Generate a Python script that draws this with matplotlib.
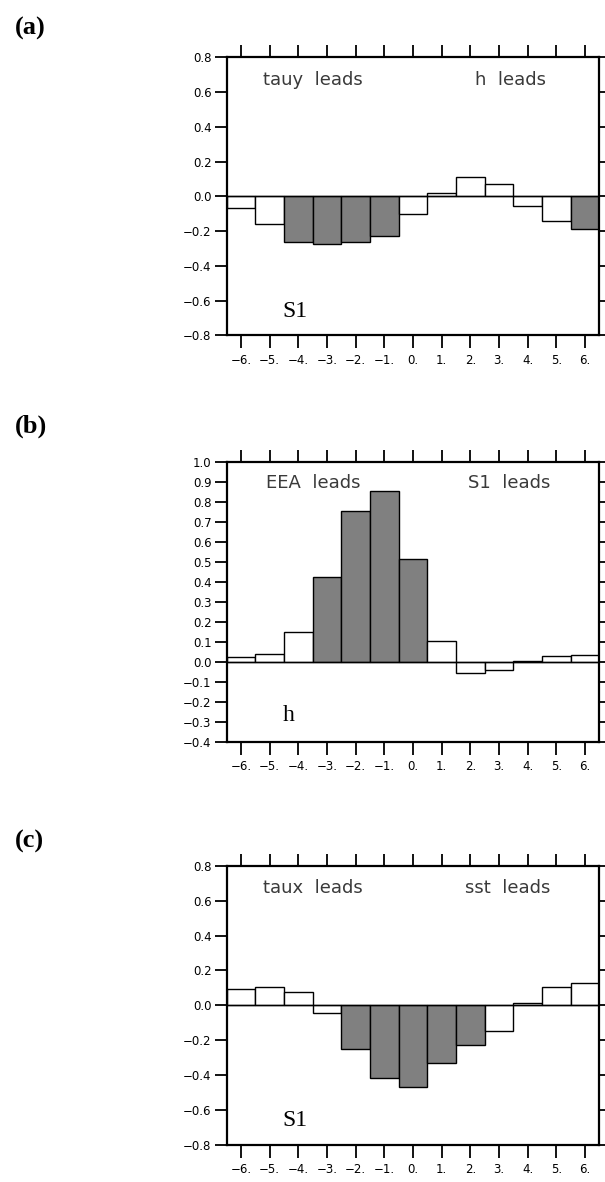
import numpy as np
import matplotlib
matplotlib.use('agg')
import matplotlib.pyplot as plt

lags = [-6, -5, -4, -3, -2, -1, 0, 1, 2, 3, 4, 5, 6]

# (a) tauy vs h, S1
corr_a = [-0.065, -0.16, -0.263, -0.275, -0.26, -0.23, -0.104, 0.019, 0.111, 0.071, -0.058, -0.14, -0.185]
shade_a = [-4, -3, -2, -1, 6]
# (b) EEA vs S1, h
corr_b = [0.027, 0.038, 0.152, 0.423, 0.753, 0.855, 0.515, 0.103, -0.057, -0.04, 0.003, 0.028, 0.037]
shade_b = [-3, -2, -1, 0]
# (c) taux vs sst, S1
corr_c = [0.093, 0.107, 0.076, -0.046, -0.25, -0.417, -0.465, -0.328, -0.227, -0.149, 0.013, 0.103, 0.128]
shade_c = [-2, -1, 0, 1, 2]

panels = [
    dict(vals=corr_a, shade=shade_a, ylim=(-0.8, 0.8), yt=np.arange(-0.8, 0.81, 0.2),
         left='tauy  leads', right='h  leads', xl=-5.24, xr=2.16, name='S1', label='(a)',
         ytop=0.67, yname=-0.66, rect=[0.3747, 0.7162, 0.6159, 0.2354], lab_y=0.976),
    dict(vals=corr_b, shade=shade_b, ylim=(-0.4, 1.0), yt=np.arange(-0.4, 1.01, 0.1),
         left='EEA  leads', right='S1  leads', xl=-5.13, xr=1.91, name='h', label='(b)',
         ytop=0.895, yname=-0.27, rect=[0.3747, 0.3723, 0.6159, 0.2369], lab_y=0.639),
    dict(vals=corr_c, shade=shade_c, ylim=(-0.8, 0.8), yt=np.arange(-0.8, 0.81, 0.2),
         left='taux  leads', right='sst  leads', xl=-5.24, xr=1.81, name='S1', label='(c)',
         ytop=0.67, yname=-0.66, rect=[0.3747, 0.0313, 0.6159, 0.2363], lab_y=0.288),
]

fig = plt.figure(figsize=(6.05, 11.82), dpi=100)

for p in panels:
    ax = fig.add_axes(p['rect'])
    colors = ['#808080' if l in p['shade'] else 'white' for l in lags]
    ax.bar(lags, p['vals'], width=1.0, color=colors, edgecolor='black', linewidth=1.0, zorder=2)
    ax.axhline(0, color='black', linewidth=1.0, zorder=3)
    ax.set_xlim(-6.5, 6.5)
    ax.set_ylim(*p['ylim'])
    ax.set_xticks(lags)
    ax.set_xticklabels([f'{l}.'.replace('-', '\u2212') for l in lags])
    ax.set_yticks(p['yt'])
    ax.set_yticklabels([f'{v:.1f}'.replace('-', '\u2212') if abs(v) > 1e-9 else '0.0' for v in p['yt']])
    ax.tick_params(direction='out', length=9, width=1.3, labelsize=8.5, pad=2,
                   top=True, right=True, labeltop=False, labelright=False)
    ax.tick_params(axis='x', pad=4)
    for s in ax.spines.values():
        s.set_linewidth(1.6)
    ax.text(p['xl'], p['ytop'], p['left'], fontsize=13, color='#3a3a3a', va='center', ha='left')
    ax.text(p['xr'], p['ytop'], p['right'], fontsize=13, color='#3a3a3a', va='center', ha='left')
    ax.text(-4.55, p['yname'], p['name'], fontsize=17, family='Liberation Serif', va='center', ha='left')
    fig.text(0.025, p['lab_y'], p['label'], fontsize=19, fontweight='bold',
             family='Liberation Serif', va='center', ha='left')

plt.savefig('out.png', dpi=100)
